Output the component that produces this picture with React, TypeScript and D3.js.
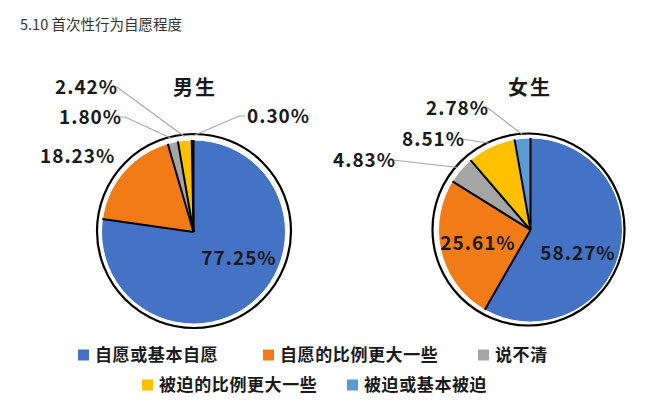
import React from 'react';
import * as d3 from 'd3';

const title = '5.10 首次性行为自愿程度';
const categories = ['自愿或基本自愿', '自愿的比例更大一些', '说不清', '被迫的比例更大一些', '被迫或基本被迫'];
const maleValues = [77.25, 18.23, 1.80, 2.42, 0.30];
const femaleValues = [58.27, 25.61, 4.83, 8.51, 2.78];
const groupNames = ['男生', '女生'];
const colors = ['#4472C4', '#F07B17', '#A5A5A5', '#FFC000', '#5B9BD5'];

const W = 654, H = 414;
const FONT = '"Noto Sans CJK SC", "Noto Sans", sans-serif';

type LabelSpec = { idx: number; inside: boolean; x: number; y: number; hook?: number };

const pies = [
  {
    name: groupNames[0], values: maleValues, cx: 193.5, cy: 232, r: 92, ox: 194, oy: 231, R: 97,
    titlePos: [195, 95],
    labels: [
      { idx: 0, inside: true, x: 239, y: 265 },
      { idx: 1, inside: false, x: 40, y: 163 },
      { idx: 2, inside: false, x: 59, y: 124, hook: 10 },
      { idx: 3, inside: false, x: 55, y: 94, hook: 6 },
      { idx: 4, inside: false, x: 247, y: 123, hook: -6 },
    ] as LabelSpec[],
  },
  {
    name: groupNames[1], values: femaleValues, cx: 530.5, cy: 230, r: 92, ox: 528.5, oy: 229.5, R: 96,
    titlePos: [530, 95],
    labels: [
      { idx: 0, inside: true, x: 578, y: 260 },
      { idx: 1, inside: true, x: 478, y: 250 },
      { idx: 2, inside: false, x: 333, y: 167, hook: 4 },
      { idx: 3, inside: false, x: 402, y: 146, hook: 4 },
      { idx: 4, inside: false, x: 426, y: 115, hook: 6 },
    ] as LabelSpec[],
  },
];

const legendRows = [
  [{ idx: 0, x: 78 }, { idx: 1, x: 263 }, { idx: 2, x: 478 }],
  [{ idx: 3, x: 142 }, { idx: 4, x: 347 }],
];
const legendRowY = [355, 385];

function Pie({ p }: { p: typeof pies[number] }) {
  const pie = d3.pie<number>().sort(null).startAngle(0).endAngle(2 * Math.PI);
  const arcs = pie(p.values);
  const arc = d3.arc<d3.PieArcDatum<number>>().innerRadius(0).outerRadius(p.r);
  const pt = (a: number, rr: number): [number, number] => [Math.sin(a) * rr, -Math.cos(a) * rr];
  const labelFs = 19;
  return (
    <g>
      <circle cx={p.ox} cy={p.oy} r={p.R} fill="#fff" stroke="#000" strokeWidth={2.2} />
      <g transform={`translate(${p.cx},${p.cy})`}>
        {arcs.map((a, i) => (
          <path key={i} d={arc(a) || ''} fill={colors[i]} stroke="none" />
        ))}
        <circle r={p.r} fill="none" stroke="#fff" strokeWidth={1} />
        {arcs.map((a, i) => {
          const [x, y] = pt(a.startAngle, p.r);
          return <line key={'r' + i} x1={0} y1={0} x2={x} y2={y} stroke="#000" strokeWidth={2} />;
        })}
      </g>
      <text x={p.titlePos[0]} y={p.titlePos[1]} textAnchor="middle" fontFamily={FONT} fontWeight="bold" fontSize={20} fill="#1a1a1a" letterSpacing={2}>{p.name}</text>
      {p.labels.map((l) => {
        const a = arcs[l.idx];
        const txt = p.values[l.idx].toFixed(2) + '%';
        if (l.inside) {
          return (
            <text key={l.idx} x={l.x} y={l.y} textAnchor="middle" fontFamily={FONT} fontWeight="bold" fontSize={labelFs} letterSpacing={1} fill="#1a1a1a">{txt}</text>
          );
        }
        const mid = (a.startAngle + a.endAngle) / 2;
        const [ex, ey] = pt(mid, p.r + 4);
        const isRight = (l.hook || 0) < 0;
        const w = txt.length * 10.6;
        const lx = isRight ? l.x - 2 : l.x + w + 3;
        const ly = l.y - 7;
        const hx = lx + (l.hook || 0);
        return (
          <g key={l.idx}>
            {l.idx !== 1 && (
              <polyline points={`${lx},${ly} ${hx},${ly} ${p.cx + ex},${p.cy + ey}`} fill="none" stroke="#A6A6A6" strokeWidth={1.1} />
            )}
            <text x={l.x} y={l.y} fontFamily={FONT} fontWeight="bold" fontSize={labelFs} letterSpacing={1} fill="#1a1a1a">{txt}</text>
          </g>
        );
      })}
    </g>
  );
}

export default function App() {
  return (
    <svg width={W} height={H} style={{ display: 'block', position: 'absolute', left: 0, top: 0 }}>
      <rect width={W} height={H} fill="#fff" />
      <text x={20} y={30} fontFamily={FONT} fontSize={14.5} fill="#333">{title}</text>
      {pies.map((p, i) => <Pie key={i} p={p} />)}
      {legendRows.map((row, ri) => (
        <g key={ri}>
          {row.map((it) => (
            <g key={it.idx}>
              <rect x={it.x} y={legendRowY[ri] - 5.5} width={11} height={11} fill={colors[it.idx]} />
              <text x={it.x + 17} y={legendRowY[ri] + 6} fontFamily={FONT} fontWeight="bold" fontSize={17} letterSpacing={0.6} fill="#1a1a1a">{categories[it.idx]}</text>
            </g>
          ))}
        </g>
      ))}
    </svg>
  );
}
